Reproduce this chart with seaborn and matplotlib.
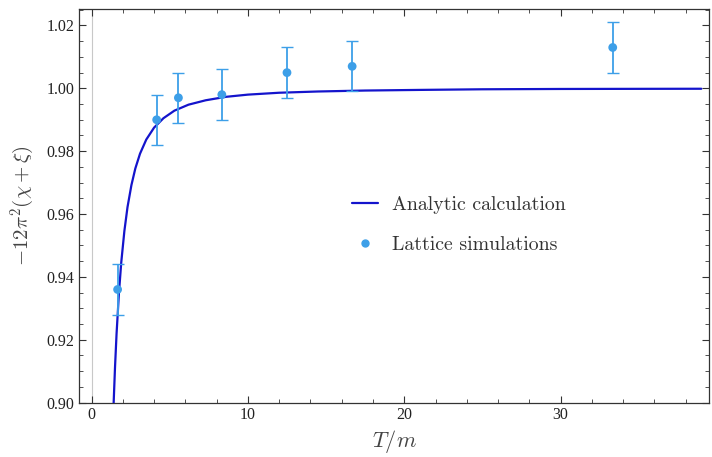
import matplotlib
matplotlib.use("Agg")
import numpy as np
import pandas as pd
import seaborn as sns
import matplotlib.pyplot as plt
from matplotlib.lines import Line2D
from matplotlib.ticker import MultipleLocator

# lattice points (T/m, value, error)
lat_x = [1.667, 4.167, 5.556, 8.333, 12.5, 16.667, 33.333]
lat_y = [0.936, 0.990, 0.997, 0.998, 1.005, 1.007, 1.013]
lat_err = [0.008, 0.008, 0.008, 0.008, 0.008, 0.008, 0.008]

# analytic curve
curve_x = [1.41, 1.5, 1.6, 1.75, 1.9, 2.1, 2.3, 2.55, 2.8, 3.1, 3.5, 4.0, 4.6,
           5.3, 6.2, 7.3, 8.6, 10, 12, 14.5, 17.5, 21, 25, 30, 35, 39]
curve_y = [0.8994, 0.9111, 0.9219, 0.9347, 0.9446, 0.9546, 0.9622, 0.9692,
           0.9745, 0.9792, 0.9837, 0.9875, 0.9905, 0.9929, 0.9948, 0.9962,
           0.9973, 0.9980, 0.9986, 0.9990, 0.9993, 0.9995, 0.9997, 0.9998,
           0.99984, 0.99987]

sns.set_style("ticks")
plt.rcParams["mathtext.fontset"] = "cm"
plt.rcParams["font.family"] = ["Liberation Serif", "DejaVu Serif"]

line_col = "#1414cc"
pt_col = "#3d9fe8"

fig = plt.figure(figsize=(7.12, 4.57), dpi=100)
ax = fig.add_axes([0.111, 0.119, 0.885, 0.861])

ax.axvline(0, color="#c8c8c8", lw=0.8, zorder=0)

df_curve = pd.DataFrame({"x": curve_x, "y": curve_y})
df_lat = pd.DataFrame({"x": lat_x, "y": lat_y, "err": lat_err})

sns.lineplot(data=df_curve, x="x", y="y", color=line_col, lw=1.6, ax=ax, zorder=3)
ax.errorbar(df_lat["x"], df_lat["y"], yerr=df_lat["err"], fmt="none",
            ecolor=pt_col, elinewidth=1.3, capsize=4, capthick=1.0, zorder=4)
sns.scatterplot(data=df_lat, x="x", y="y", color=pt_col, s=40, edgecolor="none",
                ax=ax, zorder=5)

ax.set_xlim(-0.8, 39.5)
ax.set_ylim(0.90, 1.0252)
ax.xaxis.set_major_locator(MultipleLocator(10))
ax.xaxis.set_minor_locator(MultipleLocator(2))
ax.yaxis.set_major_locator(MultipleLocator(0.02))
ax.yaxis.set_minor_locator(MultipleLocator(0.005))
ax.yaxis.set_major_formatter(matplotlib.ticker.FormatStrFormatter("%.2f"))
ax.tick_params(which="both", direction="in", top=True, right=True, labelsize=11.5,
               colors="#333333", labelcolor="#222222")
ax.tick_params(which="major", length=5, width=0.8)
ax.tick_params(which="minor", length=2.8, width=0.6)
for s in ax.spines.values():
    s.set_color("#333333")
    s.set_linewidth(0.9)

ax.set_xlabel(r"$T/m$", fontsize=16, color="#444444", labelpad=3)
ax.set_ylabel(r"$-12\pi^2(\chi+\xi)$", fontsize=15, color="#444444", labelpad=7)

handles = [Line2D([], [], color=line_col, lw=1.6),
           Line2D([], [], color=pt_col, marker="o", ms=5, lw=0)]
leg = ax.legend(handles, ["Analytic calculation", "Lattice simulations"],
                loc="upper left", bbox_to_anchor=(0.433, 0.524), frameon=False,
                prop={"family": "cmr10", "size": 14.3}, handlelength=1.3,
                handletextpad=0.7, labelspacing=1.1, borderpad=0, borderaxespad=0)
for t in leg.get_texts():
    t.set_color("#333333")

fig.savefig("out.png", dpi=100)
